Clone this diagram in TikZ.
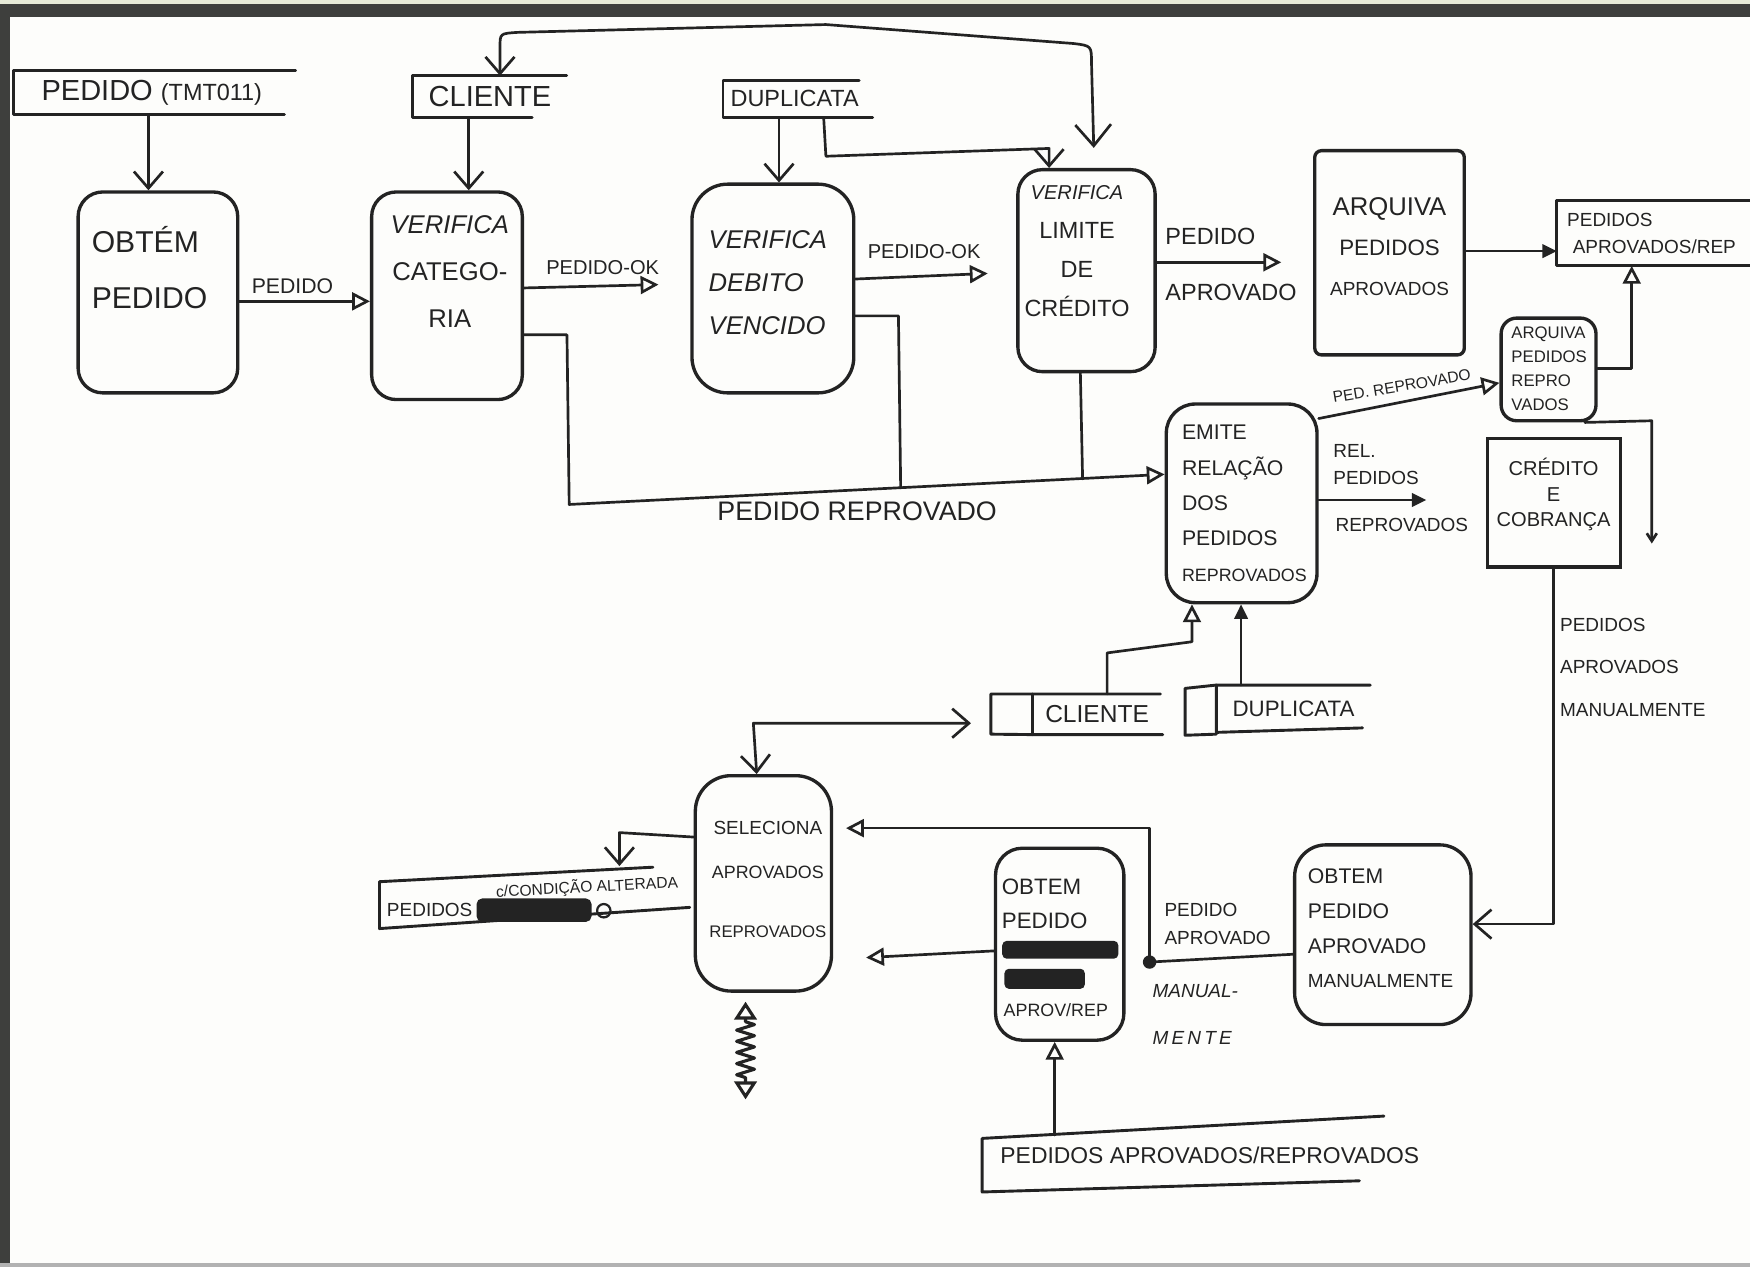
\documentclass[tikz,border=0pt]{standalone}
\usepackage{fontspec}
\setmainfont{Liberation Sans}
\usetikzlibrary{arrows.meta,decorations.pathmorphing}
\definecolor{ink}{HTML}{232323}
\definecolor{framegray}{HTML}{3E3F3D}
\definecolor{paper}{HTML}{FDFDFB}
\definecolor{strip}{HTML}{E6EAD8}
\newcommand\fs[2]{\fontsize{#1}{#2}\selectfont}
\tikzset{
 vbarb/.tip={Straight Barb[length=15pt,width=26pt]},
 bigbarb/.tip={Straight Barb[length=19pt,width=32pt]},
 otri/.tip={Triangle[open,length=16pt,width=16pt]},
 ztri/.tip={Triangle[open,length=16pt,width=20pt]},
 ftri/.tip={Triangle[length=13pt,width=12pt]},
 sbarb/.tip={Straight Barb[length=7pt,width=9pt]},
}
\begin{document}
\begin{tikzpicture}[x=1pt,y=-1pt,
  every node/.style={text=ink,inner sep=0pt},
  proc/.style={draw=ink,line width=3pt},
  fl/.style={draw=ink,line width=2.4pt,line cap=round,line join=round},
  stl/.style={draw=ink,line width=2.6pt,line cap=round,line join=round}]
\useasboundingbox (0,0) rectangle (1568,1135);
\clip (0,0) rectangle (1568,1135);
\fill[paper] (0,0) rectangle (1568,1135);
\fill[strip] (0,0) rectangle (1568,4);
\fill[framegray] (0,4) rectangle (1568,15);
\fill[framegray] (0,4) rectangle (9,1135);
\fill[gray!60] (0,1132) rectangle (1568,1135);

% ---------- processes ----------
\node[proc,rounded corners=22pt,minimum width=143pt,minimum height=180pt] (p1) at (141.5,262) {};
\node[proc,rounded corners=22pt,minimum width=135pt,minimum height=186pt] (p2) at (400.5,265) {};
\node[proc,rounded corners=32pt,minimum width=145pt,minimum height=187pt] (p3) at (692.5,258.5) {};
\node[proc,rounded corners=22pt,minimum width=123pt,minimum height=181pt] (p4) at (973.5,242.5) {};
\node[proc,rounded corners=6pt,minimum width=134pt,minimum height=183pt] (p5) at (1245,226.5) {};
\node[proc,rounded corners=14pt,minimum width=85pt,minimum height=92pt] (p6) at (1387.5,331) {};
\node[proc,rounded corners=26pt,minimum width=135pt,minimum height=178pt] (p7) at (1112.5,451) {};
\node[proc,rounded corners=32pt,minimum width=122pt,minimum height=193pt] (p8) at (684,791.5) {};
\node[proc,rounded corners=24pt,minimum width=115pt,minimum height=172pt] (p9) at (949.5,846) {};
\node[proc,rounded corners=28pt,minimum width=158pt,minimum height=161pt] (p10) at (1239,837.5) {};
\node[proc,minimum width=119pt,minimum height=115pt] (e1) at (1392.5,450.5) {};

% ---------- process texts ----------
\node[font=\fs{27}{50},align=left] (tp1) at (134,240) {OBTÉM\\PEDIDO};
\node[font=\fs{23}{42},align=center] (tp2) at (403,243) {{\itshape VERIFICA}\\CATEGO-\\RIA};
\node[font=\itshape\fs{23}{38.5},align=left] (tp3) at (688,253.5) {VERIFICA\\DEBITO\\VENCIDO};
\node[font=\fs{21}{35},align=center] (tp4) at (965,225) {{\itshape\fs{18}{35}VERIFICA}\\LIMITE\\DE\\CRÉDITO};
\node[font=\fs{20}{36},align=center] (tp5) at (1245,221) {{\fs{23}{36}ARQUIVA}\\PEDIDOS\\{\fs{17}{36}APROVADOS}};
\node[font=\fs{15}{21.5},align=left] (tp6) at (1388,330) {ARQUIVA\\PEDIDOS\\REPRO\\VADOS};
\node[font=\fs{19}{31.75},align=left] (tp7) at (1115,451) {EMITE\\RELAÇÃO\\DOS\\PEDIDOS\\{\fs{16}{31.75}REPROVADOS}};
\node[font=\fs{18}{23},align=center] (tp8) at (1392,443) {CRÉDITO\\E\\COBRANÇA};
\node[font=\fs{16}{40},align=center] (tp9) at (688,788) {{\fs{17}{40}SELECIONA}\\APROVADOS\\[13pt]{\fs{15}{40}REPROVADOS}};
\node[font=\fs{20}{30},align=left] (tp10) at (936,810) {OBTEM\\PEDIDO};
\node[font=\fs{16}{20}] (tp11) at (946,905) {APROV/REP};
\fill[ink,rounded corners=4pt] (898,843) rectangle (1002,859);
\fill[ink,rounded corners=4pt] (900,868) rectangle (972,886);
\node[font=\fs{19}{31},align=left] (tp12) at (1237,832) {OBTEM\\PEDIDO\\APROVADO\\{\fs{17}{31}MANUALMENTE}};

% ---------- stores ----------
\node[minimum width=248pt,minimum height=39pt,font=\fs{26}{28}] (s1) at (136,83) {PEDIDO {\fs{21}{22}(TMT011)}};
\draw[stl] ([xshift=253pt]s1.north west) -- (s1.north west) -- (s1.south west) -- ++(243,0);

\node[minimum width=138pt,minimum height=37pt,font=\fs{26}{30}] (s2) at (439,86.5) {CLIENTE};
\draw[stl] ([xshift=138pt]s2.north west) -- (s2.north west) -- (s2.south west) -- ++(107,0);

\node[minimum width=128pt,minimum height=33pt,font=\fs{21}{25}] (s3) at (712,88.5) {DUPLICATA};
\draw[stl] ([xshift=122pt]s3.north west) -- (s3.north west) -- (s3.south west) -- ++(134,0);

\node[minimum width=116pt,minimum height=36pt,font=\fs{22}{26}] (s4) at (983,640) {CLIENTE};
\draw[stl] ([xshift=115pt]s4.north west) -- (s4.north west) -- ++(-37,0) -- ++(0,36) -- (s4.south west) -- ++(117,0);
\draw[stl] (s4.north west) -- (s4.south west);

\node[minimum width=138pt,minimum height=42pt,font=\fs{20}{24}] (s5) at (1159,635) {DUPLICATA};
\draw[stl] ([xshift=138pt]s5.north west) -- (s5.north west) -- ++(-28,3) -- ++(0,42) -- ++(28,-1);
\draw[stl] (s5.north west) -- (s5.south west) -- ++(131,-4);

\node[anchor=west,minimum height=58pt,align=left,inner xsep=9pt,font=\fs{17}{24}] (s6) at (1395,209) {PEDIDOS\\\hspace*{5pt}APROVADOS/REP};
\draw[stl] ([xshift=200pt]s6.north west) -- (s6.north west) -- (s6.south west) -- ++(200,0);

\node[font=\fs{17}{20}] (s7) at (385,815) {PEDIDOS};
\draw[stl] (585,777) -- (340,790) -- (340,832) -- (618,813);
\node[font=\fs{14}{16},rotate=3] (s7b) at (526,795) {c/CONDIÇÃO ALTERADA};
\fill[ink,rounded corners=5pt] (427,805) rectangle (530,826);
\draw[fl,line width=2pt] (541,816) circle[radius=6pt];

\node[font=\fs{20.5}{24}] (s8) at (1084,1035) {PEDIDOS APROVADOS/REPROVADOS};
\draw[stl] (1240,1000) -- (880,1020) -- (880,1068) -- (1218,1058);
\coordinate (s8top) at (945,1017);

% ---------- flow labels ----------
\node[font=\fs{19}{22}] (l1) at (262,256) {PEDIDO};
\node[font=\fs{18}{22}] (l2) at (540,240) {PEDIDO-OK};
\node[font=\fs{18}{22}] (l3) at (828,225) {PEDIDO-OK};
\node[font=\fs{21}{50},align=left] (l4) at (1103,237) {PEDIDO\\APROVADO};
\node[font=\fs{14}{16},rotate=9.5] (l5) at (1256,346) {PED. REPROVADO};
\node[font=\fs{17}{24},align=left] (l6) at (1233,416) {REL.\\PEDIDOS};
\node[font=\fs{17}{20}] (l7) at (1256,470) {REPROVADOS};
\node[font=\fs{17}{38},align=left] (l8) at (1463,598) {PEDIDOS\\APROVADOS\\MANUALMENTE};
\node[font=\fs{24}{28}] (l9) at (768,458) {PEDIDO REPROVADO};
\node[font=\fs{17}{25},align=left] (l10) at (1091,828) {PEDIDO\\APROVADO};
\node[font=\itshape\fs{17}{42},align=left] (l11) at (1071,909) {MANUAL-\\M\,E\,N\,T\,E};

% ---------- free ends ----------
\coordinate (ok1) at (590,255);
\coordinate (ok2) at (885,245);
\coordinate (apv) at (1148,235);
\coordinate (dn) at (1480,487);
\coordinate (rel) at (1278,448);
\coordinate (cl) at (870,648);
\coordinate (cond) at (555,776);
\coordinate (zz) at (668,985);
\coordinate (dot) at (1030,862);
\coordinate (sel1) at (758,742);
\coordinate (sel2) at (776,858);
\coordinate (j1) at (807,437);
\coordinate (j2) at (970,429);

% ---------- connectors ----------
\draw[fl,-vbarb] (s1.south -| 133,0) -- (p1.north -| 133,0);
\draw[fl,-otri] (p1.east |- 0,270) -- (p2.west |- 0,270);
\draw[fl,-vbarb] (s2.south -| 420,0) -- (p2.north -| 420,0);
\draw[fl,-otri] (p2.east |- 0,258) -- (ok1);
\draw[fl,-vbarb] (s3.south -| 698,0) -- (p3.north -| 698,0);
\draw[fl,-vbarb] (s3.south -| 738,0) -- (740,140) -- (940,133) -- (p4.north -| 940,0);
\draw[fl,{vbarb}-{bigbarb}] (s2.north -| 448,0) -- (448,42) .. controls (448,30) .. (464,29) -- (740,22) -- (962,39) .. controls (978,41) .. (978,57) -- ([yshift=18pt]p4.north -| 980,0);
\draw[fl,-otri] (p3.east |- 0,250) -- (ok2);
\draw[fl,-otri] (p4.east |- 0,235) -- (apv);
\draw[fl,-ftri] (p5.east |- 0,225) -- (s6.west |- 0,225);
\draw[fl,-otri] (p6.east |- 0,330) -- (1462,330) -- (s6.south -| 1462,0);
\draw[fl,-otri] (p7.east |- 0,375) -- (p6.west |- 0,343);
\draw[fl,-sbarb] (p6.south -| 1420,0) -- (1480,377) -- (dn);
\draw[fl,-ftri] (p7.east |- 0,448) -- (rel);
\draw[fl,-vbarb] (e1.south -| 1392,0) -- (1392,828) -- (p10.east |- 0,828);
\draw[fl,-otri] (p2.east |- 0,300) -- (508,300) -- (510,452) -- (p7.west |- 0,425);
\draw[fl] (p3.east |- 0,283) -- (805,283) -- (j1);
\draw[fl] (p4.south -| 968,0) -- (j2);
\draw[fl,-otri] (s4.north -| 992,0) -- (992,585) -- (1068,575) -- (p7.south -| 1068,0);
\draw[fl,-ftri] (s5.north -| 1112,0) -- (p7.south -| 1112,0);
\draw[fl,{vbarb}-{vbarb}] (p8.north -| 678,0) -- (675,648) -- (cl);
\draw[fl,-vbarb] (p8.west |- 0,750) -- (555,746) -- (cond);
\draw[fl,line width=2.8pt,{ztri}-{ztri},decorate,decoration={zigzag,amplitude=8pt,segment length=10pt,pre length=18pt,post length=18pt}] ([yshift=-8pt]p8.south -| 668,0) -- (zz);
\draw[fl] (p10.west |- 0,855) -- (dot);
\fill[ink] (dot) circle[radius=6pt];
\draw[fl,-otri] (dot) -- (1030,742) -- (sel1);
\draw[fl,-otri] (p9.west |- 0,852) -- (sel2);
\draw[fl,-otri] (s8top) -- (p9.south -| 945,0);
\end{tikzpicture}
\end{document}
